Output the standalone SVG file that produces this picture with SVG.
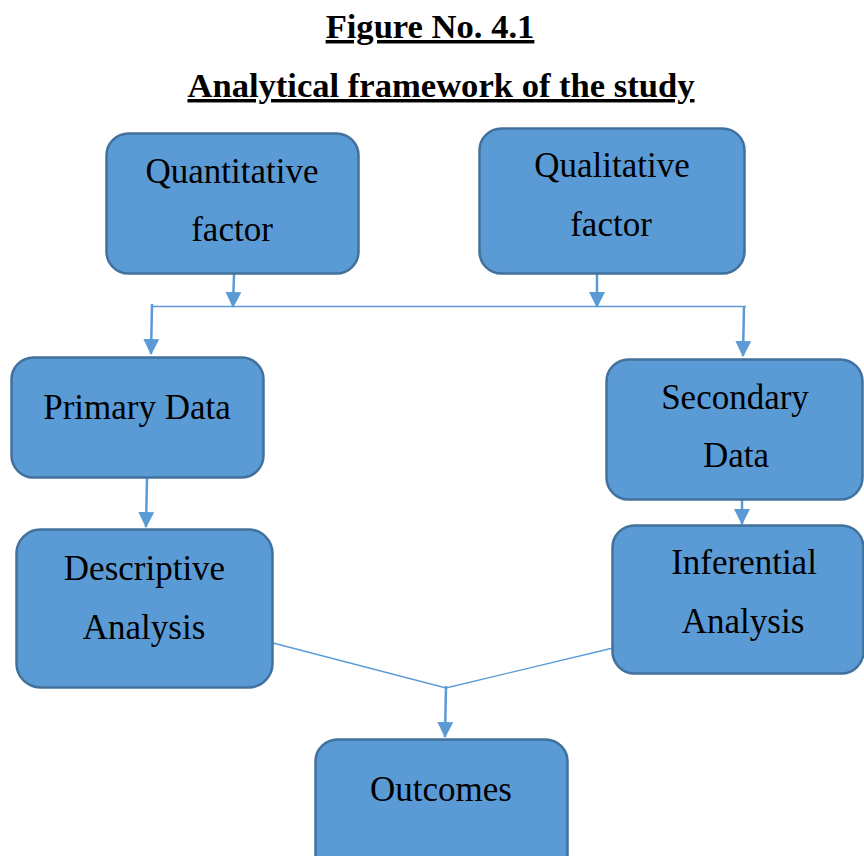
<svg xmlns="http://www.w3.org/2000/svg" width="864" height="856" viewBox="0 0 864 856">
  <style>
    .title { font-family: "Liberation Serif", "Times New Roman", serif; font-weight: bold; font-size: 34.6px; text-decoration: underline; fill: #000; }
    .box { fill: #5B9BD5; stroke: #41719C; stroke-width: 2.5; }
    .label { font-family: "Liberation Serif", "Times New Roman", serif; font-size: 35px; fill: #000; text-anchor: middle; }
    .arrow { fill: none; stroke: #5B9BD5; stroke-width: 2.5; marker-end: url(#head); }
    .line { fill: none; stroke: #5B9BD5; stroke-width: 1.3; }
  </style>
  <defs>
    <marker id="head" markerUnits="userSpaceOnUse" markerWidth="16" markerHeight="16" viewBox="0 0 16 16" refX="15" refY="8" orient="auto">
      <path d="M0,0 L16,8 L0,16 Z" fill="#5B9BD5"/>
    </marker>
  </defs>

  <rect width="864" height="856" fill="#fff"/>

  <!-- headings -->
  <text class="title" x="430" y="38" text-anchor="middle">Figure No. 4.1</text>
  <text class="title" x="441" y="97" text-anchor="middle">Analytical framework of the study</text>

  <!-- connectors -->
  <g id="connectors">
    <path class="arrow" d="M234,274 L233,307"/>
    <path class="arrow" d="M597,274 L597,307"/>
    <path class="line" d="M152,306.5 L746,306.5"/>
    <path class="arrow" d="M152,304 L151,354"/>
    <path class="arrow" d="M744,306 L743,356"/>
    <path class="arrow" d="M147,478 L146,527"/>
    <path class="arrow" d="M742,500 L742,524"/>
    <path class="line" d="M273,643 L446,688 L613,648"/>
    <path class="arrow" d="M446,686 L445,737"/>
  </g>

  <g id="quantitative">
    <rect class="box" x="106.5" y="133.5" width="252" height="140" rx="22"/>
    <text class="label" x="232" y="183">Quantitative</text>
    <text class="label" x="232" y="241">factor</text>
  </g>

  <g id="qualitative">
    <rect class="box" x="479.5" y="128.5" width="265" height="145" rx="22"/>
    <text class="label" x="612" y="177">Qualitative</text>
    <text class="label" x="611" y="236">factor</text>
  </g>

  <g id="primary-data">
    <rect class="box" x="11.5" y="357.5" width="252" height="120" rx="22"/>
    <text class="label" x="137" y="419">Primary Data</text>
  </g>

  <g id="secondary-data">
    <rect class="box" x="606.5" y="359.5" width="256" height="140" rx="22"/>
    <text class="label" x="735" y="409">Secondary</text>
    <text class="label" x="736" y="467">Data</text>
  </g>

  <g id="descriptive-analysis">
    <rect class="box" x="16.5" y="529.5" width="256" height="158" rx="24"/>
    <text class="label" x="144.5" y="580">Descriptive</text>
    <text class="label" x="144" y="639">Analysis</text>
  </g>

  <g id="inferential-analysis">
    <rect class="box" x="612.5" y="525.5" width="251" height="148" rx="22"/>
    <text class="label" x="744" y="574">Inferential</text>
    <text class="label" x="743" y="633">Analysis</text>
  </g>

  <g id="outcomes">
    <rect class="box" x="315.5" y="739.5" width="252" height="140" rx="22"/>
    <text class="label" x="441" y="801">Outcomes</text>
  </g>
</svg>
